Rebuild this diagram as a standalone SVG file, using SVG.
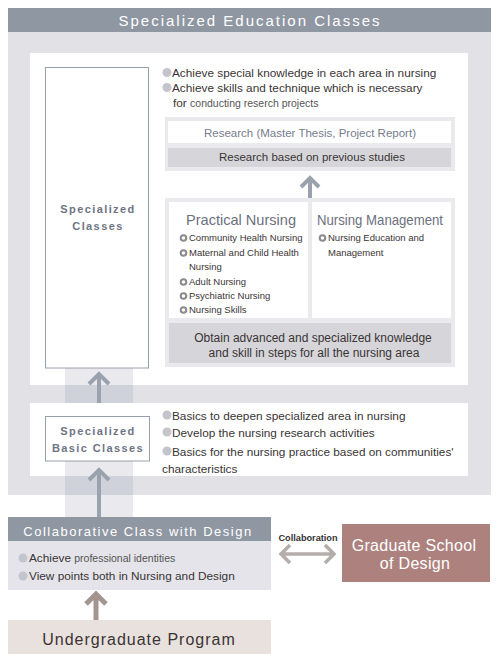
<svg xmlns="http://www.w3.org/2000/svg" width="500" height="665" viewBox="0 0 500 665">
<style>
text{font-family:"Liberation Sans",Arial,sans-serif;}
.dark{fill:#3a3434;}
.b{fill:#c4c5cc;}
.lbl{font-weight:bold;fill:#6e7484;font-size:11px;letter-spacing:1.4px;text-anchor:middle;}
.sm{font-size:9.5px;fill:#3a3434;}
.arr{stroke:#9aa2ae;stroke-width:4;fill:none;}
</style>
<rect width="500" height="665" fill="#ffffff"/>
<g id="specialized-education">
<rect x="8" y="32" width="483" height="463" fill="#e1e1e6"/>
<rect x="8" y="8" width="483" height="24" fill="#8f97a3"/>
<text x="250" y="26" text-anchor="middle" font-size="15" fill="#ffffff" letter-spacing="2">Specialized Education Classes</text>
<rect x="30" y="53" width="438" height="332" fill="#ffffff"/>
<rect x="30" y="403" width="438" height="73" fill="#ffffff"/>
</g>
<g id="bands">
<rect x="65" y="368" width="68" height="17" fill="#e9e9ee"/>
<rect x="65" y="385" width="68" height="18" fill="#cfd2da"/>
<rect x="65" y="461" width="68" height="15" fill="#e9e9ee"/>
<rect x="65" y="476" width="68" height="19" fill="#cfd2da"/>
<rect x="65" y="495" width="68" height="22" fill="#e9e9ee"/>
</g>
<g id="specialized-classes">
<rect x="45.5" y="67.5" width="103" height="300.5" fill="#ffffff" stroke="#9aa0ab" stroke-width="1"/>
<text class="lbl" x="98" y="213">Specialized</text>
<text class="lbl" x="98" y="230">Classes</text>
</g>
<g id="upper-goals">
<circle class="b" cx="167" cy="72.5" r="4.5"/>
<text x="172" y="77" font-size="11.8" class="dark">Achieve special knowledge in each area in nursing</text>
<circle class="b" cx="167" cy="87.5" r="4.5"/>
<text x="172" y="92" font-size="11.8" class="dark">Achieve skills and technique which is necessary</text>
<text x="173" y="107" font-size="11.8" class="dark">for <tspan font-size="10.5" fill="#555">conducting reserch projects</tspan></text>
</g>
<g id="research">
<rect x="165" y="117" width="290" height="54" fill="#e9e9ee"/>
<rect x="168" y="121" width="283" height="22" fill="#ffffff"/>
<text x="310" y="137" text-anchor="middle" font-size="11.5" fill="#767c8c">Research (Master Thesis, Project Report)</text>
<rect x="168" y="148" width="283" height="19" fill="#d6d6da"/>
<text x="312" y="161" text-anchor="middle" font-size="11.5" class="dark">Research based on previous studies</text>
</g>
<g id="nursing-areas">
<rect x="165" y="198" width="290" height="169" fill="#e9e9ee"/>
<rect x="169" y="202" width="139" height="116" fill="#ffffff"/>
<rect x="312" y="202" width="139" height="116" fill="#ffffff"/>
<text x="186" y="225" font-size="15" fill="#6b7080" textLength="110" lengthAdjust="spacingAndGlyphs">Practical Nursing</text>
<text x="317" y="225" font-size="15" fill="#6b7080" textLength="126" lengthAdjust="spacingAndGlyphs">Nursing Management</text>
<g fill="#ffffff" stroke="#8a8a8f" stroke-width="2">
<circle cx="183.5" cy="238" r="2.8"/>
<circle cx="183.5" cy="253" r="2.8"/>
<circle cx="183.5" cy="282" r="2.8"/>
<circle cx="183.5" cy="296" r="2.8"/>
<circle cx="183.5" cy="310" r="2.8"/>
<circle cx="322.5" cy="238" r="2.8"/>
</g>
<text class="sm" x="189" y="241">Community Health Nursing</text>
<text class="sm" x="189" y="256">Maternal and Child Health</text>
<text class="sm" x="189" y="270">Nursing</text>
<text class="sm" x="189" y="285">Adult Nursing</text>
<text class="sm" x="189" y="299">Psychiatric Nursing</text>
<text class="sm" x="189" y="313">Nursing Skills</text>
<text class="sm" x="328" y="241">Nursing Education and</text>
<text class="sm" x="328" y="256">Management</text>
<rect x="169" y="323" width="282" height="40" fill="#d6d6da"/>
<text x="313" y="342" text-anchor="middle" font-size="12" class="dark">Obtain advanced and specialized knowledge</text>
<text x="314" y="357" text-anchor="middle" font-size="12" class="dark">and skill in steps for all the nursing area</text>
</g>
<g id="basic-classes">
<rect x="45.5" y="416.5" width="104" height="44.5" fill="#ffffff" stroke="#9aa0ab" stroke-width="1"/>
<text class="lbl" x="98" y="435">Specialized</text>
<text class="lbl" x="98" y="452">Basic Classes</text>
</g>
<g id="basic-goals">
<circle class="b" cx="167" cy="415" r="4.5"/>
<text x="172" y="420" font-size="11.8" class="dark">Basics to deepen specialized area in nursing</text>
<circle class="b" cx="167" cy="432" r="4.5"/>
<text x="172" y="437" font-size="11.8" class="dark">Develop the nursing research activities</text>
<circle class="b" cx="167" cy="451" r="4.5"/>
<text x="172" y="456" font-size="11.8" class="dark">Basics for the nursing practice based on communities'</text>
<text x="162" y="473" font-size="11.8" class="dark">characteristics</text>
</g>
<g id="collaborative-class">
<rect x="8" y="517" width="263" height="24" fill="#8f97a3"/>
<text x="138" y="536" text-anchor="middle" font-size="13" fill="#ffffff" letter-spacing="1.5">Collaborative Class with Design</text>
<rect x="8" y="541" width="263" height="49" fill="#e4e4ea"/>
<circle class="b" cx="23" cy="558" r="4.5"/>
<text x="29" y="562" font-size="11.8" class="dark">Achieve <tspan font-size="10.5" fill="#555">professional identities</tspan></text>
<circle class="b" cx="23" cy="576" r="4.5"/>
<text x="29" y="580" font-size="11.8" class="dark">View points both in Nursing and Design</text>
</g>
<g id="graduate-school">
<rect x="342" y="524" width="148" height="58" fill="#ad827e"/>
<text x="414" y="551" text-anchor="middle" font-size="16" fill="#ffffff" letter-spacing="0.3">Graduate School</text>
<text x="415" y="569" text-anchor="middle" font-size="16" fill="#ffffff" letter-spacing="0.3">of Design</text>
</g>
<g id="undergraduate">
<rect x="8" y="620" width="263" height="34" fill="#e9e1de"/>
<text x="139" y="645" text-anchor="middle" font-size="16" fill="#3a3434" letter-spacing="1">Undergraduate Program</text>
</g>
<g id="connectors">
<path class="arr" d="M310 178V198M301 187L310 178L319 187"/>
<path class="arr" d="M99 374V403M89 384L99 374L109 384"/>
<path class="arr" d="M99 470V517M89 480L99 470L109 480"/>
<path d="M96 594V620M86 604L96 594L106 604" stroke="#a59591" stroke-width="5" fill="none"/>
<path d="M281 554H334M290 545L281 554L290 563M325 545L334 554L325 563" stroke="#b5adab" stroke-width="3.5" fill="none"/>
<text x="308" y="541" text-anchor="middle" font-size="9" font-weight="bold" fill="#333" textLength="59" lengthAdjust="spacingAndGlyphs">Collaboration</text>
</g>
</svg>
